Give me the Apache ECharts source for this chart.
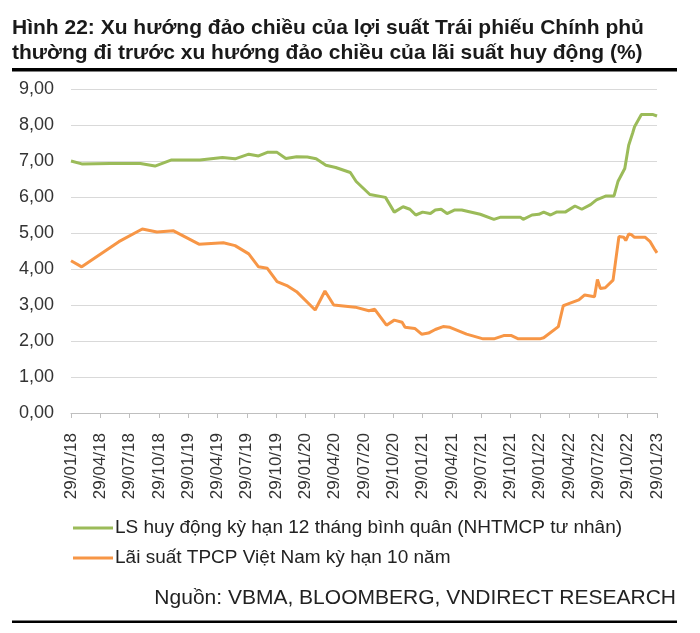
<!DOCTYPE html>
<html>
<head>
<meta charset="utf-8">
<script src="https://cdn.jsdelivr.net/npm/echarts@6/dist/echarts.min.js"></script>
<style>
  html, body { margin: 0; padding: 0; background: #fff; }
  #chart { width: 700px; height: 633px; }
</style>
</head>
<body>
<div id="chart"></div>
<script>
// x = months since 29/01/18
const tickLabels = ['29/01/18', '29/04/18', '29/07/18', '29/10/18', '29/01/19', '29/04/19', '29/07/19',
  '29/10/19', '29/01/20', '29/04/20', '29/07/20', '29/10/20', '29/01/21', '29/04/21', '29/07/21',
  '29/10/21', '29/01/22', '29/04/22', '29/07/22', '29/10/22', '29/01/23']

const depositName = 'LS huy động kỳ hạn 12 tháng bình quân (NHTMCP tư nhân)'
const depositRate = [
  [0, 7.00], [1.1, 6.92], [4, 6.93], [7.1, 6.93], [8.6, 6.86], [10.3, 7.03], [13.2, 7.03],
  [15.5, 7.10], [16.8, 7.06], [18.2, 7.19], [19.2, 7.14], [20.1, 7.24], [21.1, 7.24],
  [22.0, 7.07], [23.1, 7.12], [24.2, 7.11], [25.1, 7.06], [26.1, 6.88], [27.1, 6.82],
  [28.6, 6.68], [29.2, 6.43], [30.6, 6.07], [32.2, 5.99], [33.1, 5.58], [34.0, 5.73],
  [34.7, 5.66], [35.3, 5.50], [36.0, 5.58], [36.8, 5.54], [37.3, 5.64], [37.9, 5.66],
  [38.5, 5.54], [39.3, 5.64], [40.0, 5.64], [41.9, 5.52], [43.3, 5.38], [44.0, 5.44],
  [46.0, 5.44], [46.3, 5.38], [47.2, 5.50], [47.9, 5.52], [48.4, 5.58], [49.1, 5.50],
  [49.7, 5.58], [50.6, 5.58], [51.6, 5.75], [52.3, 5.66], [53.2, 5.79], [53.8, 5.92],
  [54.8, 6.03], [55.6, 6.03], [56.0, 6.43], [56.7, 6.79], [57.1, 7.44], [57.5, 7.77],
  [57.7, 7.95], [58.4, 8.29], [59.6, 8.29], [60, 8.25]
]

const bondName = 'Lãi suất TPCP Việt Nam kỳ hạn 10 năm'
const bondYield = [
  [0, 4.23], [1.1, 4.06], [4.9, 4.76], [7.3, 5.11], [8.8, 5.03], [10.5, 5.06], [13.1, 4.69],
  [15.6, 4.73], [16.8, 4.65], [18.2, 4.42], [19.2, 4.06], [20.1, 4.02], [21.1, 3.65],
  [22.1, 3.54], [23.1, 3.37], [25.0, 2.86], [26.0, 3.39], [26.9, 3.00], [29.1, 2.94],
  [30.5, 2.84], [31.1, 2.88], [32.3, 2.44], [33.1, 2.58], [33.9, 2.52], [34.2, 2.38],
  [35.2, 2.35], [35.9, 2.19], [36.6, 2.22], [37.3, 2.32], [38.1, 2.40], [38.8, 2.38],
  [40.5, 2.19], [42.2, 2.06], [43.3, 2.06], [44.3, 2.15], [45.1, 2.15], [45.8, 2.06],
  [48.0, 2.06], [48.4, 2.09], [49.9, 2.40], [50.4, 2.98], [50.9, 3.03], [52.0, 3.14],
  [52.6, 3.28], [53.6, 3.23], [53.9, 3.71], [54.2, 3.46], [54.7, 3.48], [55.5, 3.69],
  [56.1, 4.90], [56.6, 4.88], [56.8, 4.79], [57.1, 4.97], [57.4, 4.95], [57.7, 4.88],
  [58.8, 4.88], [59.3, 4.76], [59.8, 4.53], [60, 4.45]
]

const chart = echarts.init(document.getElementById('chart'))
const font = 'Liberation Sans, Arial, sans-serif'

chart.setOption({
  backgroundColor: '#fff',
  animation: false,
  textStyle: { fontFamily: font },
  title: [
    {
      text: 'Hình 22: Xu hướng đảo chiều của lợi suất Trái phiếu Chính phủ\nthường đi trước xu hướng đảo chiều của lãi suất huy động (%)',
      left: 12,
      top: 16,
      padding: 0,
      textStyle: { fontSize: 21, fontWeight: 'bold', color: '#1a1a1a', lineHeight: 24.5, fontFamily: font }
    },
    {
      text: 'Nguồn: VBMA, BLOOMBERG, VNDIRECT RESEARCH',
      right: 24,
      top: 588,
      padding: 0,
      textStyle: { fontSize: 21, fontWeight: 'normal', color: '#222', fontFamily: font }
    }
  ],
  graphic: [
    { type: 'rect', shape: { x: 12, y: 68, width: 665, height: 3.5 }, style: { fill: '#000' } },
    { type: 'rect', shape: { x: 12, y: 620.5, width: 665, height: 2.5 }, style: { fill: '#000' } }
  ],
  legend: {
    orient: 'vertical',
    left: 68,
    top: 513,
    itemWidth: 40,
    itemHeight: 3,
    itemGap: 10,
    icon: 'rect',
    textStyle: { fontSize: 19, lineHeight: 20, color: '#222', padding: [0, 0, 0, -3] },
    data: [depositName, bondName]
  },
  grid: { left: 71, right: 43, top: 89, bottom: 220 },
  xAxis: {
    type: 'value',
    min: 0,
    max: 60,
    interval: 3,
    axisLine: { show: true, lineStyle: { color: '#bfbfbf' } },
    axisTick: { show: true, length: 5, lineStyle: { color: '#bfbfbf' } },
    splitLine: { show: false },
    axisLabel: {
      rotate: 90,
      margin: 20,
      fontSize: 17,
      color: '#333',
      formatter: v => tickLabels[Math.round(v / 3)]
    }
  },
  yAxis: {
    type: 'value',
    min: 0,
    max: 9,
    interval: 1,
    axisLine: { show: false },
    axisTick: { show: false },
    splitLine: { lineStyle: { color: '#d9d9d9' } },
    axisLabel: {
      fontSize: 18,
      color: '#333',
      margin: 17,
      formatter: v => v.toFixed(2).replace('.', ',')
    }
  },
  series: [
    {
      name: depositName,
      type: 'line',
      data: depositRate,
      symbol: 'none',
      lineStyle: { width: 3, color: '#9bbb59' },
      itemStyle: { color: '#9bbb59' }
    },
    {
      name: bondName,
      type: 'line',
      data: bondYield,
      symbol: 'none',
      lineStyle: { width: 3, color: '#f79646' },
      itemStyle: { color: '#f79646' }
    }
  ]
})
</script>
</body>
</html>
